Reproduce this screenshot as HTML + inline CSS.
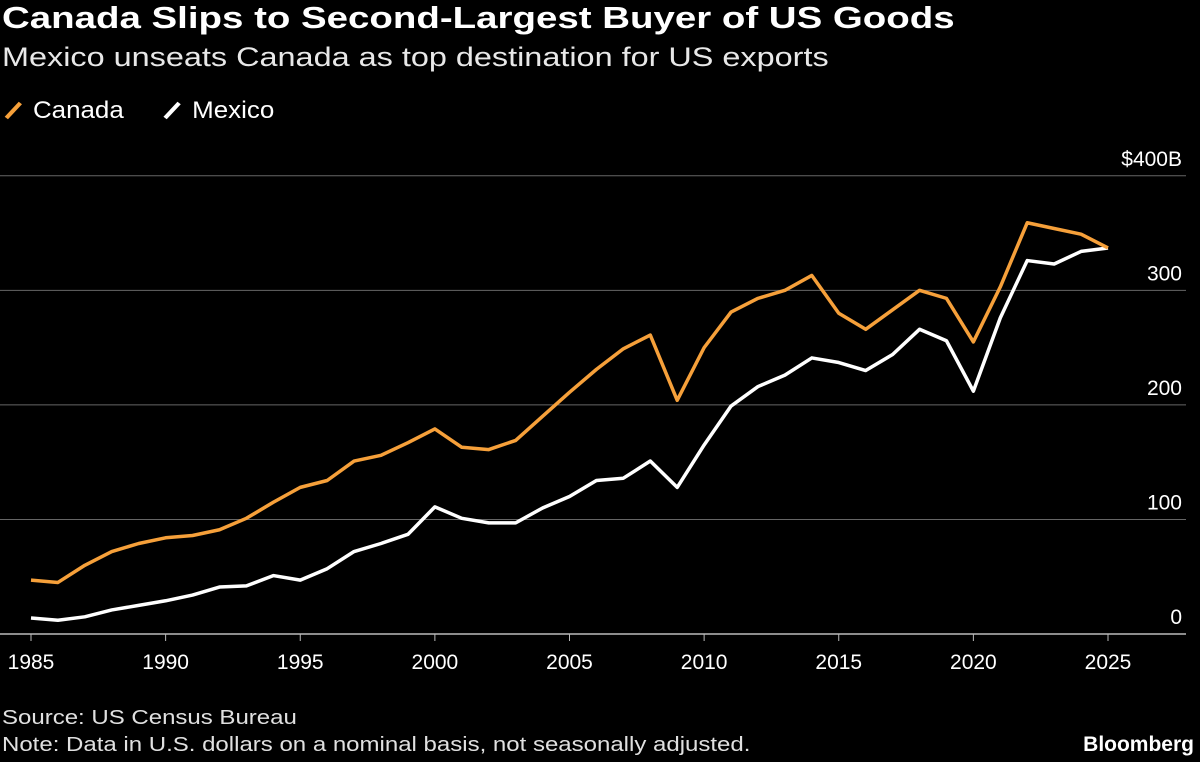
<!DOCTYPE html>
<html><head><meta charset="utf-8"><style>
body{margin:0;background:#000;width:1200px;height:762px;overflow:hidden;font-family:"Liberation Sans",sans-serif;color:#fff}
.t{position:absolute;left:2px;white-space:nowrap;transform-origin:0 0}
</style></head><body>
<div class="t" style="top:0px;font-size:31px;font-weight:bold;transform:scaleX(1.24)">Canada Slips to Second-Largest Buyer of US Goods</div>
<div class="t" style="top:42px;font-size:27px;color:#e8e8e8;transform:scaleX(1.2)">Mexico unseats Canada as top destination for US exports</div>
<div class="t" style="top:97px;font-size:24px;transform:scaleX(1.08)">
<span><svg width="22" height="22" style="vertical-align:-3px"><line x1="4" y1="19" x2="17" y2="4" stroke="#f6a03a" stroke-width="4"/></svg> Canada</span>
<span style="margin-left:28px"><svg width="22" height="22" style="vertical-align:-3px"><line x1="4" y1="19" x2="17" y2="4" stroke="#fff" stroke-width="4"/></svg> Mexico</span>
</div>
<svg id="chart" width="1200" height="762" style="position:absolute;left:0;top:0"></svg>
<div class="t" style="top:707px;font-size:20px;color:#e0e0e0;transform:scaleX(1.2)">Source: US Census Bureau</div>
<div class="t" style="top:734px;font-size:20px;color:#e0e0e0;transform:scaleX(1.2)">Note: Data in U.S. dollars on a nominal basis, not seasonally adjusted.</div>
<div style="position:absolute;right:6px;top:733px;font-size:21px;font-weight:bold">Bloomberg</div>
<script>
const years=[];for(let y=1985;y<=2025;y++)years.push(y);
const canada=[47,45,60,72,79,84,86,91,101,115,128,134,151,156,167,179,163,161,169,190,211,231,249,261,204,250,281,293,300,313,280,266,283,300,293,255,303,359,354,349,337];
const mexico=[14,12,15,21,25,29,34,41,42,51,47,57,72,79,87,111,101,97,97,110,120,134,136,151,128,165,199,216,226,241,237,230,244,266,256,212,276,326,323,334,337];
const yTicks=[0,100,200,300,400];
const yTickLabels=["0","100","200","300","$400B"];
const xTicks=[1985,1990,1995,2000,2005,2010,2015,2020,2025];
const svg=document.getElementById('chart');const NS='http://www.w3.org/2000/svg';
const xs=y=>31+(y-1985)*(1108-31)/40;
const ys=v=>634-v*1.1455;
function mk(t,a){const e=document.createElementNS(NS,t);for(const k in a)e.setAttribute(k,a[k]);svg.appendChild(e);return e;}
yTicks.forEach((v,i)=>{
 const l=mk('line',{x1:0,x2:1186,y1:ys(v),y2:ys(v),stroke:v===0?'#bbb':'#666','stroke-width':v===0?1.5:1});
 
 
 const t=mk('text',{x:1182,y:ys(v)-10,'text-anchor':'end',fill:'#fff','font-size':21,'font-family':'Liberation Sans'});
 t.textContent=yTickLabels[i];
 
 
});
xTicks.forEach(y=>{
 const k=mk('line',{x1:xs(y),x2:xs(y),y1:634,y2:641,stroke:'#bbb'});
 
 
 const t=mk('text',{x:xs(y),y:669,'text-anchor':'middle',fill:'#fff','font-size':21,'font-family':'Liberation Sans'});
 t.textContent=y;
 
 
});
function line(data,color,name){
 const p=mk('polyline',{points:data.map((v,i)=>xs(years[i])+','+ys(v)).join(' '),fill:'none',stroke:color,'stroke-width':3.5,'stroke-linejoin':'round'});
 
 
}
line(mexico,'#ffffff','mexico-line');
line(canada,'#f6a03a','canada-line');
</script>
</body></html>
